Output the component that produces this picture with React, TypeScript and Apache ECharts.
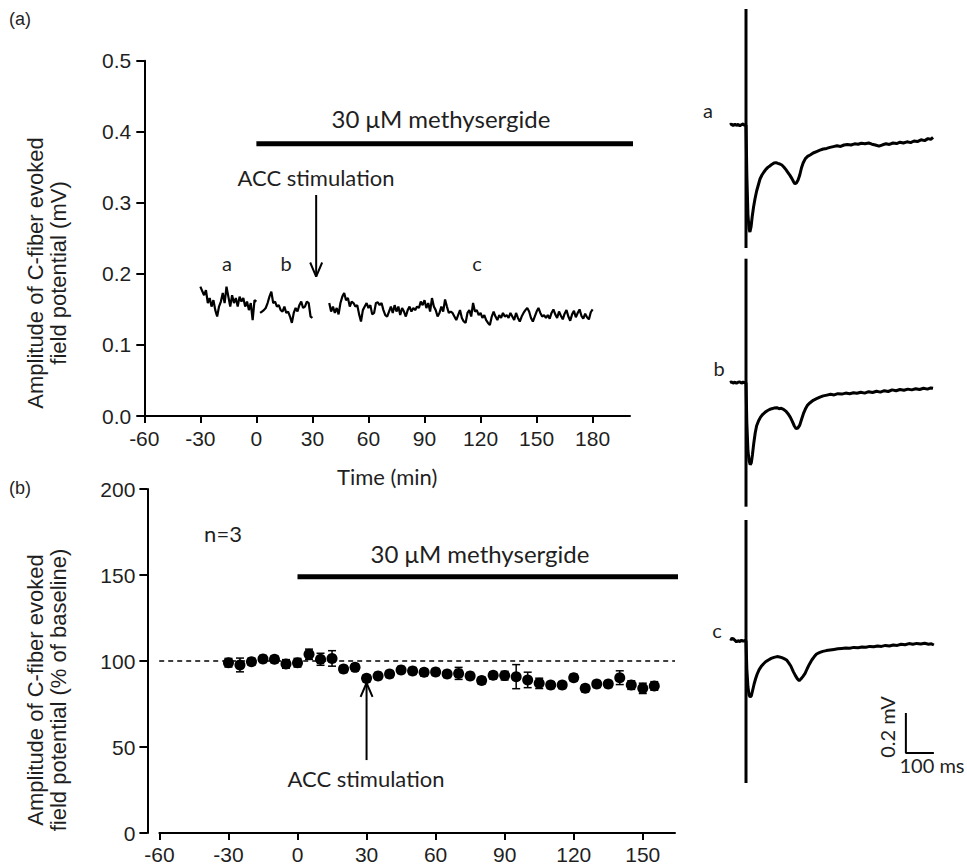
import React, { useEffect, useRef } from "react";
import * as echarts from "echarts";

// ---------- Panel (a): single experiment, amplitude (mV) vs time (min) ----------
const aXTicks = [-60, -30, 0, 30, 60, 90, 120, 150, 180];
const aSeg1Start = -30;
const aSeg1 = [0.182, 0.176, 0.17, 0.177, 0.159, 0.166, 0.154, 0.163, 0.149, 0.14, 0.154, 0.161, 0.173, 0.159, 0.182, 0.168, 0.154, 0.17, 0.159, 0.166, 0.154, 0.168, 0.161, 0.166, 0.154, 0.161, 0.149, 0.159, 0.135, 0.163, 0.161];
const aSeg2Start = 2;
const aSeg2 = [0.145, 0.147, 0.149, 0.152, 0.159, 0.168, 0.175, 0.159, 0.161, 0.154, 0.156, 0.149, 0.147, 0.154, 0.145, 0.147, 0.14, 0.131, 0.145, 0.152, 0.147, 0.156, 0.161, 0.152, 0.154, 0.161, 0.159, 0.14, 0.138];
const aSeg3Start = 39;
const aSeg3 = [
  0.159, 0.147, 0.154, 0.145, 0.152, 0.143, 0.159, 0.168, 0.173, 0.163, 0.166, 0.154, 0.161, 0.159, 0.154, 0.156, 0.143, 0.133, 0.149, 0.154, 0.159, 0.152, 0.156, 0.143,
  0.145, 0.159, 0.16, 0.156, 0.159, 0.149, 0.142, 0.14, 0.147, 0.154, 0.145, 0.156, 0.147, 0.154, 0.142, 0.152, 0.147, 0.14, 0.149, 0.154, 0.147, 0.152, 0.149, 0.154, 0.152, 0.161, 0.156, 0.163, 0.152, 0.159, 0.147, 0.166, 0.154, 0.149, 0.14, 0.145, 0.154, 0.147, 0.164, 0.154, 0.145, 0.147, 0.145, 0.14, 0.135, 0.142, 0.149, 0.138, 0.133, 0.131, 0.145, 0.149, 0.14, 0.159, 0.147, 0.149, 0.142, 0.145, 0.138, 0.142, 0.135, 0.131, 0.128, 0.14, 0.147, 0.14, 0.135, 0.142, 0.138, 0.145, 0.14, 0.142, 0.138, 0.145, 0.14, 0.135, 0.145, 0.138, 0.133, 0.14, 0.145, 0.149, 0.152, 0.147, 0.138, 0.133, 0.14, 0.147, 0.152, 0.145, 0.14, 0.142, 0.138,
  0.142, 0.137, 0.145, 0.15, 0.143, 0.138, 0.147, 0.141, 0.136, 0.144, 0.149, 0.14, 0.134, 0.143, 0.148, 0.139, 0.145, 0.15, 0.141, 0.137, 0.144, 0.139, 0.136, 0.146, 0.15,
];
const aDrug = { start: 0, end: 207, level: 0.383 };
const aArrow = { t: 32, top: 0.311, tip: 0.196 };

// ---------- Panel (b): n=3, % of baseline ----------
const bXTicks = [-60, -30, 0, 30, 60, 90, 120, 150];
const bTimes = [-30, -25, -20, -15, -10, -5, 0, 5, 10, 15, 20, 25, 30, 35, 40, 45, 50, 55, 60, 65, 70, 75, 80, 85, 90, 95, 100, 105, 110, 115, 120, 125, 130, 135, 140, 145, 150, 155];
const bMeans = [99.0, 97.7, 99.6, 101.2, 101.0, 98.3, 99.0, 103.9, 101.0, 101.5, 95.3, 96.3, 89.9, 91.3, 92.4, 94.8, 94.2, 93.4, 93.6, 92.4, 92.8, 91.3, 88.6, 91.7, 91.5, 90.9, 89.0, 87.0, 86.0, 86.0, 90.3, 84.1, 86.6, 86.6, 90.3, 86.0, 84.1, 85.5];
const bErr = [2.5, 4, 2, 2, 2, 2.5, 2.5, 3, 3.5, 4.5, 2, 2, 2, 2, 2, 2, 2, 2, 2, 2, 3.5, 2, 2, 2, 2.5, 7, 4.5, 3, 2, 2, 2, 2, 2, 2, 4, 2.5, 3, 2.5];
const bDrug = { start: 0, end: 167.5, level: 149 };
const bBaseline = { from: -64, to: 164, level: 100 };
const bArrow = { t: 30, bottom: 42.4, tip: 87.2 };

// ---------- Raw field potential traces (ms, mV relative to baseline) ----------
const traceA = [
  [-57, 0], [-52, 0.005], [-46, -0.003], [-40, 0.004], [-34, -0.002], [-28, 0.003], [-22, -0.004], [-16, 0.002], [-10, 0.005], [-5, -0.002], [0, 0],
  [3, -0.25], [7, -0.45], [11, -0.52], [14, -0.535], [18, -0.51], [22, -0.46], [27, -0.41], [32, -0.37], [38, -0.33], [44, -0.3], [50, -0.27], [57, -0.25], [64, -0.235], [71, -0.222], [78, -0.212], [85, -0.205], [92, -0.197], [100, -0.19], [107, -0.188], [114, -0.192], [121, -0.195], [128, -0.2], [135, -0.21], [142, -0.222], [150, -0.238], [157, -0.252], [164, -0.268], [170, -0.284], [175, -0.294], [180, -0.29], [186, -0.275], [192, -0.25], [198, -0.215], [204, -0.19], [212, -0.168], [220, -0.157], [229, -0.15], [240, -0.14], [252, -0.133], [264, -0.126], [276, -0.12], [288, -0.117], [300, -0.112], [312, -0.108], [325, -0.104], [338, -0.107], [350, -0.1], [362, -0.097], [375, -0.1], [388, -0.094], [400, -0.096], [412, -0.091], [425, -0.094], [438, -0.09], [450, -0.096], [462, -0.1], [475, -0.106], [488, -0.099], [500, -0.094], [512, -0.097], [525, -0.09], [538, -0.093], [550, -0.086], [562, -0.09], [575, -0.084], [588, -0.088], [600, -0.08], [612, -0.083], [625, -0.074], [638, -0.078], [650, -0.068], [660, -0.072], [668, -0.062],
];
const traceB = [
  [-57, 0], [-52, 0.004], [-46, -0.002], [-40, 0.003], [-34, -0.003], [-28, 0.002], [-22, 0.004], [-16, -0.002], [-10, 0.003], [-5, 0], [0, 0],
  [3, -0.2], [7, -0.34], [11, -0.39], [15, -0.41], [19, -0.4], [23, -0.36], [28, -0.3], [33, -0.25], [38, -0.215], [45, -0.19], [52, -0.172], [60, -0.158], [68, -0.148], [76, -0.14], [84, -0.134], [92, -0.13], [100, -0.127], [110, -0.125], [118, -0.13], [126, -0.128], [134, -0.133], [142, -0.142], [150, -0.155], [158, -0.172], [165, -0.192], [172, -0.215], [179, -0.23], [185, -0.227], [192, -0.212], [198, -0.185], [205, -0.155], [212, -0.132], [220, -0.112], [229, -0.1], [240, -0.088], [252, -0.08], [264, -0.072], [276, -0.066], [289, -0.062], [302, -0.058], [315, -0.061], [328, -0.055], [342, -0.057], [356, -0.052], [370, -0.055], [384, -0.05], [396, -0.053], [410, -0.048], [424, -0.052], [438, -0.045], [452, -0.049], [466, -0.043], [480, -0.047], [494, -0.04], [508, -0.044], [522, -0.036], [536, -0.04], [550, -0.034], [564, -0.038], [578, -0.032], [592, -0.036], [606, -0.03], [620, -0.034], [634, -0.028], [648, -0.032], [660, -0.026], [668, -0.028],
];
const traceC = [
  [-57, 0.012], [-52, 0.008], [-46, 0.013], [-40, 0.004], [-34, -0.004], [-28, 0.002], [-22, -0.003], [-16, 0.004], [-10, -0.002], [-5, 0.003], [0, 0],
  [3, -0.14], [7, -0.23], [11, -0.27], [15, -0.28], [19, -0.275], [24, -0.245], [29, -0.215], [34, -0.19], [40, -0.165], [47, -0.143], [54, -0.128], [62, -0.115], [70, -0.104], [80, -0.095], [90, -0.087], [100, -0.082], [111, -0.078], [120, -0.08], [128, -0.083], [136, -0.088], [145, -0.095], [152, -0.108], [160, -0.125], [169, -0.153], [176, -0.172], [183, -0.188], [190, -0.198], [196, -0.19], [203, -0.178], [211, -0.162], [218, -0.14], [226, -0.117], [235, -0.095], [244, -0.078], [252, -0.065], [262, -0.058], [274, -0.052], [287, -0.048], [300, -0.045], [314, -0.042], [328, -0.039], [342, -0.037], [356, -0.035], [370, -0.036], [385, -0.032], [400, -0.034], [414, -0.03], [428, -0.031], [442, -0.027], [456, -0.029], [470, -0.025], [484, -0.027], [498, -0.022], [512, -0.025], [526, -0.02], [540, -0.022], [554, -0.016], [568, -0.019], [582, -0.013], [596, -0.016], [610, -0.012], [624, -0.015], [638, -0.011], [652, -0.016], [662, -0.014], [671, -0.02],
];
const artifactA = [0.58, -0.615];
const artifactB = [0.62, -0.62];
const artifactC = [0.605, -0.71];
const scaleBar = { t0: 571, t1: 671, v0: -0.56, v1: -0.36 };

const BLACK = "#000";
const TEXT = "#1f1f1f";
const ARIAL = "Liberation Sans, Arial, sans-serif";
const CAL = "Lato, sans-serif";

function seg(start: number, vals: number[]) {
  return vals.map((v, i) => [start + i, v]);
}

function lineSeries(xi: number, data: any[], width: number, extra: any = {}) {
  return {
    type: "line",
    xAxisIndex: xi,
    yAxisIndex: xi,
    data,
    showSymbol: false,
    symbol: "none",
    clip: false,
    silent: true,
    lineStyle: { color: BLACK, width, ...(extra.lineStyle || {}) },
    z: extra.z ?? 3,
  };
}

function txt(text: string, x: number, y: number, size: number, family = CAL, rotation = 0, lineHeight?: number) {
  return {
    type: "text",
    x,
    y,
    rotation,
    silent: true,
    style: {
      text,
      fill: TEXT,
      fontSize: size,
      fontFamily: family,
      lineHeight: lineHeight ?? Math.round(size * 1.2),
      align: "center",
      textAlign: "center",
      verticalAlign: "middle",
      textVerticalAlign: "middle",
    },
  };
}

export default function App() {
  const ref = useRef<HTMLDivElement>(null);
  useEffect(() => {
    if (!ref.current) return;
    const chart = echarts.init(ref.current, undefined, { renderer: "svg" });

    const axisLineStyle = { color: BLACK, width: 2 };
    const tickStyle = { color: BLACK, width: 2 };
    const labelStyle = (margin: number) => ({ fontSize: 21, fontFamily: ARIAL, color: TEXT, margin });

    const aHead = [
      [aArrow.t - 3.2, aArrow.tip + 0.02],
      [aArrow.t, aArrow.tip],
      [aArrow.t + 3.2, aArrow.tip + 0.02],
    ];
    const bHead = [
      [bArrow.t - 2.6, bArrow.tip - 8],
      [bArrow.t, bArrow.tip],
      [bArrow.t + 2.6, bArrow.tip - 8],
    ];

    const hiddenX = (gi: number) => ({ gridIndex: gi, type: "value", min: -60, max: 680, show: false });
    const hiddenY = (gi: number, min: number, max: number) => ({ gridIndex: gi, type: "value", min, max, show: false });

    const option: any = {
      animation: false,
      backgroundColor: "#fff",
      grid: [
        { left: 144.3, top: 60.7, width: 485.7, height: 355.3 },
        { left: 159.4, top: 489, width: 515.6, height: 344 },
        { left: 729.2, top: 5, width: 207.2, height: 250 },
        { left: 729.2, top: 252.7, width: 207.2, height: 260 },
        { left: 729.2, top: 511, width: 207.2, height: 280 },
      ],
      xAxis: [
        {
          gridIndex: 0,
          type: "value",
          min: -60,
          max: 200,
          axisLine: { show: true, onZero: false, lineStyle: axisLineStyle },
          axisTick: { show: true, length: 7, lineStyle: tickStyle, customValues: aXTicks },
          axisLabel: { ...labelStyle(12), customValues: aXTicks },
          splitLine: { show: false },
          name: "Time (min)",
          nameLocation: "middle",
          nameGap: 49,
          nameTextStyle: { fontFamily: CAL, fontSize: 22, color: TEXT },
        },
        {
          gridIndex: 1,
          type: "value",
          min: -60,
          max: 164,
          axisLine: { show: true, onZero: false, lineStyle: axisLineStyle },
          axisTick: { show: true, length: 7, lineStyle: tickStyle, customValues: bXTicks },
          axisLabel: { ...labelStyle(11), customValues: bXTicks },
          splitLine: { show: false },
        },
        hiddenX(2),
        hiddenX(3),
        hiddenX(4),
      ],
      yAxis: [
        {
          gridIndex: 0,
          type: "value",
          min: 0,
          max: 0.5,
          interval: 0.1,
          axisLine: { show: true, onZero: false, lineStyle: axisLineStyle },
          axisTick: { show: true, length: 8, lineStyle: tickStyle },
          axisLabel: { ...labelStyle(13), formatter: (v: number) => v.toFixed(1) },
          splitLine: { show: false },
        },
        {
          gridIndex: 1,
          type: "value",
          min: 0,
          max: 200,
          interval: 50,
          offset: 12,
          axisLine: { show: true, onZero: false, lineStyle: axisLineStyle },
          axisTick: { show: true, length: 8, lineStyle: tickStyle },
          axisLabel: labelStyle(12),
          splitLine: { show: false },
        },
        hiddenY(2, -0.65, 0.6),
        hiddenY(3, -0.65, 0.65),
        hiddenY(4, -0.75, 0.65),
      ],
      series: [
        // panel (a)
        lineSeries(0, seg(aSeg1Start, aSeg1), 2.2),
        lineSeries(0, seg(aSeg2Start, aSeg2), 2.2),
        lineSeries(0, seg(aSeg3Start, aSeg3), 2.2),
        lineSeries(0, [[aDrug.start, aDrug.level], [aDrug.end, aDrug.level]], 5),
        lineSeries(0, [[aArrow.t, aArrow.top], [aArrow.t, aArrow.tip]], 2),
        lineSeries(0, aHead, 2),
        // panel (b)
        lineSeries(1, [[bBaseline.from, bBaseline.level], [bBaseline.to, bBaseline.level]], 1.5, {
          lineStyle: { type: [5, 4] },
          z: 1,
        }),
        lineSeries(1, [[bDrug.start, bDrug.level], [bDrug.end, bDrug.level]], 5),
        lineSeries(1, [[bArrow.t, bArrow.bottom], [bArrow.t, bArrow.tip]], 2),
        lineSeries(1, bHead, 2),
        {
          type: "custom",
          xAxisIndex: 1,
          yAxisIndex: 1,
          silent: true,
          z: 2,
          data: bTimes.map((t, i) => [t, bMeans[i], bErr[i]]),
          encode: { x: 0, y: 1 },
          renderItem: (params: any, api: any) => {
            const x = api.value(0);
            const y = api.value(1);
            const e = api.value(2);
            const top = api.coord([x, y + e]);
            const bot = api.coord([x, y - e]);
            const hw = 4;
            const st = { stroke: BLACK, lineWidth: 1.5 };
            return {
              type: "group",
              children: [
                { type: "line", shape: { x1: top[0], y1: top[1], x2: bot[0], y2: bot[1] }, style: st },
                { type: "line", shape: { x1: top[0] - hw, y1: top[1], x2: top[0] + hw, y2: top[1] }, style: st },
                { type: "line", shape: { x1: bot[0] - hw, y1: bot[1], x2: bot[0] + hw, y2: bot[1] }, style: st },
              ],
            };
          },
        },
        {
          type: "scatter",
          xAxisIndex: 1,
          yAxisIndex: 1,
          silent: true,
          z: 4,
          symbol: "circle",
          symbolSize: 11,
          itemStyle: { color: BLACK, opacity: 1 },
          data: bTimes.map((t, i) => [t, bMeans[i]]),
        },
        // traces
        lineSeries(2, traceA, 3),
        lineSeries(2, [[0, artifactA[0]], [0, artifactA[1]]], 3),
        lineSeries(3, traceB, 3),
        lineSeries(3, [[0, artifactB[0]], [0, artifactB[1]]], 3),
        lineSeries(4, traceC, 3),
        lineSeries(4, [[0, artifactC[0]], [0, artifactC[1]]], 3),
        lineSeries(4, [[scaleBar.t0, scaleBar.v1], [scaleBar.t0, scaleBar.v0], [scaleBar.t1, scaleBar.v0]], 2),
      ],
      graphic: [
        txt("(a)", 20, 19, 18, ARIAL),
        txt("(b)", 20, 488, 18, ARIAL),
        txt("Amplitude of C-fiber evoked\nfield potential (mV)", 47, 273, 22, ARIAL, Math.PI / 2, 23),
        txt("Amplitude of C-fiber evoked\nfield potential (% of baseline)", 47, 690, 22, ARIAL, Math.PI / 2, 23),
        txt("30 μM methysergide", 441, 118, 24),
        txt("ACC stimulation", 316, 177, 22),
        txt("a", 227, 263, 20),
        txt("b", 286, 263, 20),
        txt("c", 477, 263, 20),
        txt("n=3", 223, 533, 22),
        txt("30 μM methysergide", 480, 553, 24),
        txt("ACC stimulation", 366, 778, 22),
        txt("a", 708, 110, 20),
        txt("b", 719, 368, 20),
        txt("c", 717, 630, 20),
        txt("0.2 mV", 887, 727, 20, CAL, Math.PI / 2),
        txt("100 ms", 932, 765, 20),
      ],
    };

    chart.setOption(option);
    return () => chart.dispose();
  }, []);

  return (
    <div
      ref={ref}
      style={{ position: "absolute", left: 0, top: 0, width: 967, height: 867, background: "#fff" }}
    />
  );
}
